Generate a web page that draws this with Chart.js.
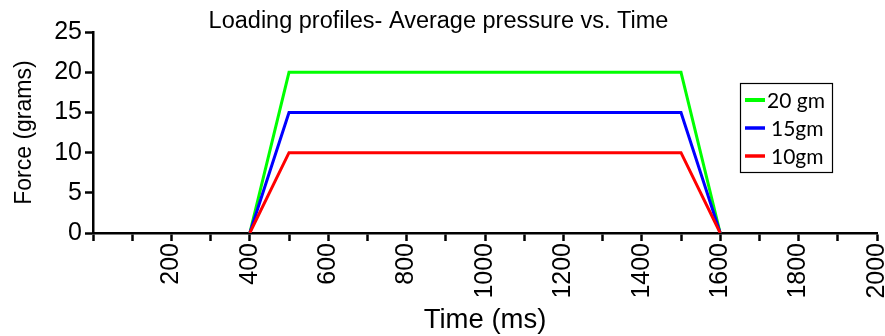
<!DOCTYPE html>
<html>
<head>
<meta charset="utf-8">
<script src="https://cdn.jsdelivr.net/npm/chart.js@4/dist/chart.umd.min.js"></script>
<style>
  html, body { margin: 0; padding: 0; background: #ffffff; }
  #wrap { width: 885px; height: 336px; }
</style>
</head>
<body>
<div id="wrap"><canvas id="c" width="885" height="336"></canvas></div>
<script>
// Loading profiles: time (ms) vs. applied force (grams)
const timeMs = [400, 500, 1500, 1600];
const force20 = [0, 20, 20, 0];
const force15 = [0, 15, 15, 0];
const force10 = [0, 10, 10, 0];
const seriesLabels = ['20 gm', '15gm', '10gm'];
const seriesColors = ['#00ff00', '#0000ff', '#ff0000'];
const yTickValues = [0, 5, 10, 15, 20, 25];
const xTickLabels = [200, 400, 600, 800, 1000, 1200, 1400, 1600, 1800, 2000];

const toPoints = (ys) => timeMs.map((t, i) => ({ x: t, y: ys[i] }));

// Boxed legend drawn inside the plot, to the right of the profiles
const boxLegend = {
  id: 'boxLegend',
  afterDraw(chart) {
    const ctx = chart.ctx;
    const x0 = 740, y0 = 83, w = 92, h = 89;
    ctx.save();
    ctx.fillStyle = '#ffffff';
    ctx.fillRect(x0, y0, w, h);
    ctx.strokeStyle = '#000000';
    ctx.lineWidth = 1.2;
    ctx.strokeRect(x0 + 0.5, y0 + 0.5, w, h);
    const rows = [100, 128, 156];
    const textX = [767, 771, 771];
    chart.data.datasets.forEach((ds, i) => {
      ctx.strokeStyle = ds.borderColor;
      ctx.lineWidth = i === 0 ? 4 : 3.5;
      ctx.beginPath();
      ctx.moveTo(745, rows[i]);
      ctx.lineTo(765, rows[i]);
      ctx.stroke();
      ctx.fillStyle = '#000000';
      ctx.font = '21px Lato, "Open Sans", sans-serif';
      ctx.textBaseline = 'middle';
      ctx.textAlign = 'left';
      ctx.fillText(ds.label, textX[i], rows[i] + 1);
    });
    ctx.restore();
  }
};

const axisFont = { family: '"Liberation Sans", Arial, sans-serif', size: 25 };

new Chart(document.getElementById('c'), {
  type: 'line',
  data: {
    datasets: [force20, force15, force10].map((vals, i) => ({
      label: seriesLabels[i],
      data: toPoints(vals),
      borderColor: seriesColors[i],
      backgroundColor: seriesColors[i],
      borderWidth: 3,
      pointRadius: 0,
      fill: false,
      tension: 0,
      order: 2 - i
    }))
  },
  options: {
    responsive: false,
    animation: false,
    layout: { padding: { left: 0, right: 8, top: 0, bottom: 0 } },
    plugins: {
      legend: { display: false },
      tooltip: { enabled: false },
      title: {
        display: true,
        text: 'Loading profiles- Average pressure vs. Time',
        color: '#000000',
        font: { family: '"Liberation Sans", Arial, sans-serif', size: 23.5, weight: 'normal', lineHeight: 0.9 },
        padding: { top: 11, bottom: 0 }
      }
    },
    scales: {
      x: {
        type: 'linear',
        min: 0,
        max: 2000,
        afterBuildTicks(scale) {
          const t = [];
          for (let v = 0; v <= 2000; v += 100) t.push({ value: v });
          scale.ticks = t;
        },
        afterFit(scale) {
          scale.height = 103;
          scale.paddingLeft = 0;
          scale.paddingRight = 0;
        },
        ticks: {
          autoSkip: false,
          maxRotation: 90,
          minRotation: 90,
          padding: 2,
          color: '#000000',
          font: axisFont,
          callback: (v) => (xTickLabels.includes(v) ? String(v) : '')
        },
        grid: {
          drawOnChartArea: false,
          drawTicks: true,
          tickLength: 8,
          tickWidth: 2.5,
          tickColor: '#000000'
        },
        border: { display: true, color: '#000000', width: 2.5 },
        title: {
          display: true,
          text: 'Time (ms)',
          color: '#000000',
          font: { family: '"Liberation Sans", Arial, sans-serif', size: 27.5, lineHeight: 1 },
          padding: { top: 0, bottom: 2 }
        }
      },
      y: {
        min: 0,
        max: 25,
        afterBuildTicks(scale) {
          scale.ticks = yTickValues.map(v => ({ value: v }));
        },
        afterFit(scale) {
          scale.width = 93;
        },
        ticks: {
          padding: 3,
          color: '#000000',
          font: axisFont
        },
        grid: {
          drawOnChartArea: false,
          drawTicks: true,
          tickLength: 8,
          tickWidth: 2.5,
          tickColor: '#000000'
        },
        border: { display: true, color: '#000000', width: 2.5 },
        title: {
          display: true,
          text: 'Force (grams)',
          color: '#000000',
          font: { family: '"Liberation Sans", Arial, sans-serif', size: 23, lineHeight: 1.2 },
          padding: { top: 11, bottom: 0 }
        }
      }
    }
  },
  plugins: [boxLegend]
});
</script>
</body>
</html>
